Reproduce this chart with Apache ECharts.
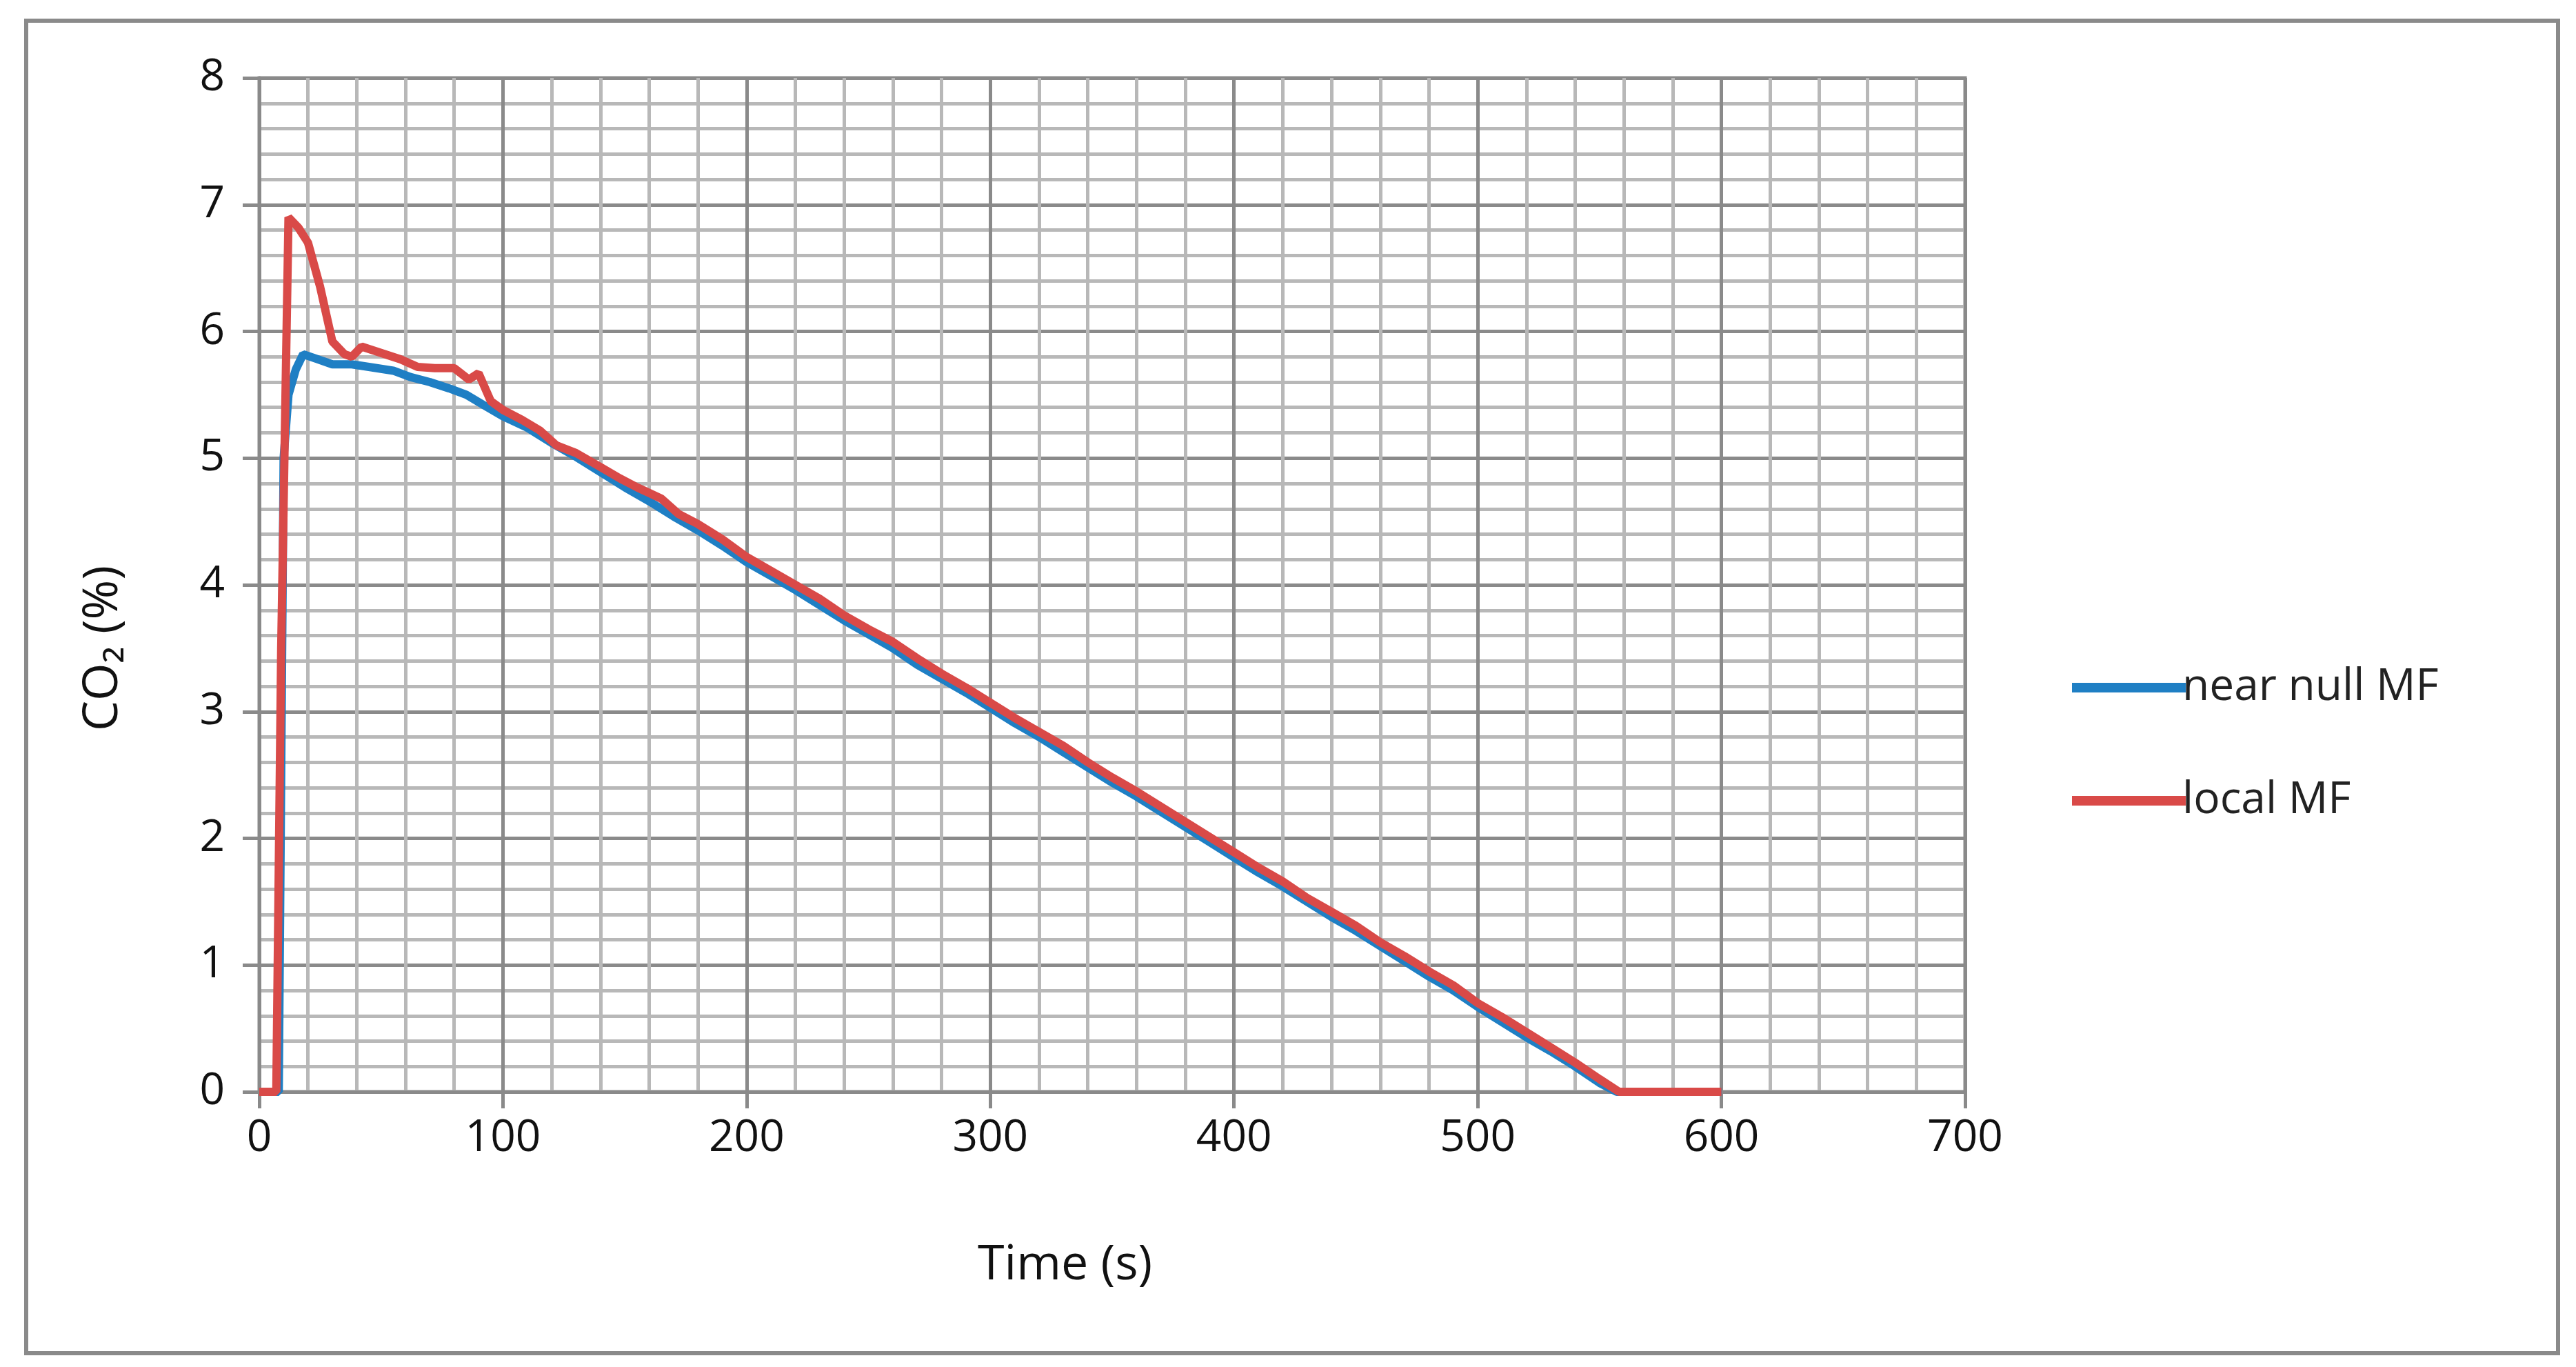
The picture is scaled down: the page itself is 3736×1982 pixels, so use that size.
<!DOCTYPE html>
<html>
<head>
<meta charset="utf-8">
<script src="https://cdn.jsdelivr.net/npm/echarts@6/dist/echarts.min.js"></script>
<style>
  html, body { margin: 0; padding: 0; background: #fff; }
  #chart { width: 3736px; height: 1982px; }
</style>
</head>
<body>
<div id="chart"></div>
<script>
// readings: [time (s), CO2 (%)]
const nearNullMF = [
  [0, 0], [8, 0], [10, 5.0], [12, 5.5], [15, 5.7], [18, 5.82], [24, 5.78], [30, 5.74],
  [38, 5.74], [45, 5.72], [55, 5.69], [62, 5.64], [70, 5.6], [78, 5.55], [85, 5.5],
  [92, 5.42], [100, 5.33], [110, 5.24], [120, 5.12], [130, 5.01], [140, 4.89],
  [150, 4.77], [160, 4.66], [170, 4.54], [180, 4.43], [190, 4.31], [200, 4.18],
  [210, 4.07], [220, 3.96], [230, 3.84], [240, 3.72], [250, 3.61], [260, 3.5],
  [270, 3.37], [280, 3.26], [290, 3.15], [300, 3.03], [310, 2.91], [320, 2.8],
  [330, 2.68], [340, 2.56], [350, 2.44], [360, 2.33], [370, 2.21], [380, 2.09],
  [390, 1.97], [400, 1.85], [410, 1.73], [420, 1.62], [430, 1.5], [440, 1.38],
  [450, 1.27], [460, 1.15], [470, 1.03], [480, 0.91], [490, 0.8], [500, 0.67],
  [510, 0.55], [520, 0.43], [530, 0.32], [540, 0.2], [550, 0.07], [557, 0], [600, 0]
];
const localMF = [
  [0, 0], [7, 0], [9, 3.5], [12, 6.9], [16, 6.82], [20, 6.7], [25, 6.35], [30, 5.92],
  [35, 5.82], [38, 5.8], [42, 5.88], [50, 5.83], [58, 5.78], [65, 5.72], [72, 5.71],
  [80, 5.71], [86, 5.62], [90, 5.67], [95, 5.45], [100, 5.38], [108, 5.3], [115, 5.22],
  [122, 5.1], [130, 5.04], [140, 4.93], [148, 4.84], [155, 4.77], [165, 4.68],
  [172, 4.56], [180, 4.48], [190, 4.36], [200, 4.22], [210, 4.11], [220, 4.0],
  [230, 3.89], [240, 3.76], [250, 3.65], [260, 3.55], [270, 3.42], [280, 3.3],
  [290, 3.19], [300, 3.07], [310, 2.95], [320, 2.84], [330, 2.73], [340, 2.6],
  [350, 2.48], [360, 2.37], [370, 2.25], [380, 2.13], [390, 2.01], [400, 1.89],
  [410, 1.77], [420, 1.66], [430, 1.53], [440, 1.42], [450, 1.31], [460, 1.18],
  [470, 1.07], [480, 0.95], [490, 0.84], [500, 0.7], [510, 0.59], [520, 0.47],
  [530, 0.35], [540, 0.23], [550, 0.1], [558, 0], [600, 0]
];
const seriesNames = ['near null MF', 'local MF'];

const chart = echarts.init(document.getElementById('chart'));
const font = '"Open Sans", "Noto Sans", sans-serif';
const majorLine = { show: true, lineStyle: { color: '#8a8a8a', width: 5 } };
const minorLine = { show: true, lineStyle: { color: '#b8b8b8', width: 5 } };

chart.setOption({
  backgroundColor: '#fff',
  animation: false,
  textStyle: { fontFamily: font },
  grid: { left: 376, top: 113, right: 886, bottom: 399, show: true, borderColor: '#8a8a8a', borderWidth: 5 },
  legend: {
    data: seriesNames,
    orient: 'vertical',
    left: 3000,
    top: 960,
    itemGap: 100,
    itemWidth: 165,
    itemHeight: 14,
    icon: 'rect',
    textStyle: { fontSize: 64, color: '#222', fontFamily: font, padding: [0, 0, 0, -10] }
  },
  xAxis: {
    type: 'value',
    min: 0,
    max: 700,
    interval: 100,
    axisLine: { show: true, lineStyle: { color: '#8a8a8a', width: 5 } },
    axisTick: { show: true, length: 24, lineStyle: { color: '#8a8a8a', width: 5 } },
    axisLabel: { fontSize: 64, color: '#111', margin: 36 },
    splitLine: majorLine,
    minorTick: { show: false, splitNumber: 5 },
    minorSplitLine: minorLine
  },
  yAxis: {
    type: 'value',
    min: 0,
    max: 8,
    interval: 1,
    axisLine: { show: true, lineStyle: { color: '#8a8a8a', width: 5 } },
    axisTick: { show: true, length: 24, lineStyle: { color: '#8a8a8a', width: 5 } },
    axisLabel: { fontSize: 64, color: '#111', margin: 50 },
    splitLine: majorLine,
    minorTick: { show: false, splitNumber: 5 },
    minorSplitLine: minorLine
  },
  graphic: [
    { type: 'rect', shape: { x: 38, y: 30, width: 3672, height: 1932 }, style: { fill: 'none', stroke: '#8a8a8a', lineWidth: 6 }, silent: true },
    { type: 'text', left: 1418, top: 1800, style: { text: 'Time (s)', fontSize: 70, fill: '#111', fontFamily: font } },
    { type: 'text', x: 150, y: 940, rotation: Math.PI / 2, style: { text: 'CO₂ (%)', fontSize: 70, fill: '#111', fontFamily: font, align: 'center', verticalAlign: 'middle' } }
  ],
  series: [
    { name: seriesNames[0], type: 'line', data: nearNullMF, showSymbol: false, color: '#1f7fc4', lineStyle: { width: 12 } },
    { name: seriesNames[1], type: 'line', data: localMF, showSymbol: false, color: '#d94a48', lineStyle: { width: 12 } }
  ]
});
</script>
</body>
</html>
